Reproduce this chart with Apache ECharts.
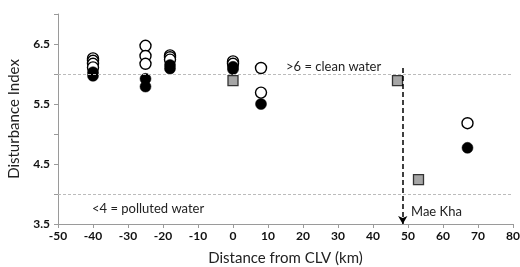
<!DOCTYPE html>
<html><head><meta charset="utf-8">
<script src="https://cdn.jsdelivr.net/npm/echarts@6/dist/echarts.min.js"></script>
<style>html,body{margin:0;padding:0;background:#fff}#c{width:520px;height:267px}</style>
</head><body><div id="c"></div>
<script>
// Open circles
const openX = [-40,-40,-40,-40, -25,-25,-25, -18,-18,-18, 0,0, 8,8, 67];
const openY = [6.26,6.22,6.17,6.11, 6.47,6.30,6.17, 6.31,6.28,6.24, 6.21,6.17, 6.10,5.69, 5.18];
// Filled circles
const fillX = [-40,-40, -25,-25, -18,-18, 0,0, 8, 67];
const fillY = [6.03,5.97, 5.92,5.79, 6.15,6.09, 6.12,6.08, 5.50, 4.77];
// Squares
const sqX = [0, 47, 53];
const sqY = [5.89, 5.89, 4.24];
// Reference thresholds and the Mae Kha marker
const thresholds = [6, 4];
const maeKhaX = 48.5;
const maeKhaY = [6.1, 3.5];
const xTicks = [-50,-40,-30,-20,-10,0,10,20,30,40,50,60,70,80];
const yLabels = [3.5,4.5,5.5,6.5];

const pair = (xs, ys) => xs.map((x, i) => [x, ys[i]]);
const font = 'Lato';
const chart = echarts.init(document.getElementById('c'), null, {renderer: 'canvas'});
chart.setOption({
  animation: false,
  textStyle: {fontFamily: font},
  grid: {left: 58, right: 7, top: 14, bottom: 43, containLabel: false, outerBoundsMode: 'none'},
  xAxis: {
    type: 'value', min: -50, max: 80, interval: 10,
    name: 'Distance from CLV (km)', nameLocation: 'middle', nameGap: 27,
    nameTextStyle: {fontFamily: font, fontSize: 15, color: '#222'},
    axisLine: {onZero: false, lineStyle: {color: '#9a9a9a'}},
    axisTick: {show: true, length: 4, lineStyle: {color: '#9a9a9a'}},
    axisLabel: {fontFamily: font, fontSize: 12, fontWeight: 'bold', color: '#111', margin: 6},
    splitLine: {show: false}
  },
  yAxis: {
    type: 'value', min: 3.5, max: 7, interval: 0.5,
    name: 'Disturbance Index', nameLocation: 'middle', nameGap: 36,
    nameTextStyle: {fontFamily: font, fontSize: 15, color: '#222'},
    axisLine: {show: true, onZero: false, lineStyle: {color: '#9a9a9a'}},
    axisTick: {show: true, length: 4, lineStyle: {color: '#9a9a9a'}},
    axisLabel: {fontFamily: font, fontSize: 12, fontWeight: 'bold', color: '#111', margin: 8,
      formatter: v => yLabels.some(l => Math.abs(l - v) < 1e-6) ? v.toFixed(1) : ''},
    splitLine: {show: false}
  },
  series: [
    {
      type: 'scatter', data: pair(sqX, sqY), symbol: 'rect', symbolSize: 10,
      itemStyle: {color: '#a6a6a6', borderColor: '#333', borderWidth: 1.3, opacity: 1},
      markLine: {
        silent: true, symbol: 'none', label: {show: false},
        lineStyle: {color: '#bbbbbb', type: [3, 2], width: 1},
        data: thresholds.map(t => ({yAxis: t}))
      },
      z: 2
    },
    {
      type: 'scatter', data: pair(openX, openY), symbol: 'circle', symbolSize: 11,
      itemStyle: {color: '#fff', borderColor: '#000', borderWidth: 1.4, opacity: 1},
      z: 3
    },
    {
      type: 'scatter', data: pair(fillX, fillY), symbol: 'circle', symbolSize: 11,
      itemStyle: {color: '#000', borderColor: '#000', borderWidth: 0.5, opacity: 1},
      markLine: {
        silent: true, symbol: ['none', 'arrow'], symbolSize: [7, 8], label: {show: false},
        lineStyle: {color: '#000', type: [5, 3], width: 1.5},
        data: [[{coord: [maeKhaX, maeKhaY[0]]}, {coord: [maeKhaX, maeKhaY[1]]}]]
      },
      z: 4
    }
  ],
  graphic: [
    {type: 'text', left: 286, top: 60, style: {text: '>6 = clean water', fontFamily: font, fontSize: 13, fill: '#222'}},
    {type: 'text', left: 92, top: 202, style: {text: '<4 = polluted water', fontFamily: font, fontSize: 13, fill: '#222'}},
    {type: 'text', left: 411, top: 205, style: {text: 'Mae Kha', fontFamily: font, fontSize: 13, fill: '#222'}}
  ]
});
</script></body></html>
